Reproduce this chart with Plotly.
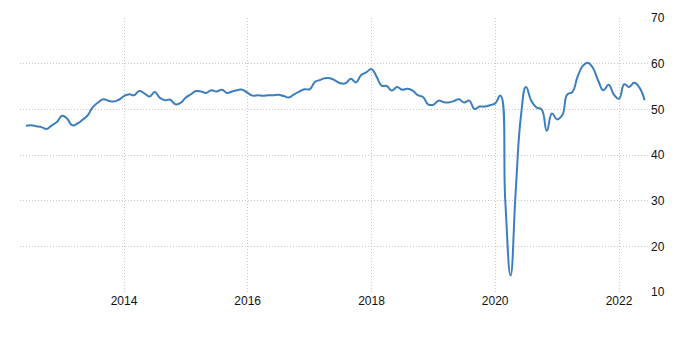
import plotly.graph_objects as go
import pandas as pd

start = "2012-06-01"
values = [
    # 2012 Jun-Dec
    46.4, 46.5, 46.3, 46.1, 45.7, 46.5, 47.2,
    # 2013
    48.6, 47.9, 46.5, 46.9, 47.7, 48.7, 50.5, 51.5, 52.2, 51.9, 51.7, 52.1,
    # 2014
    52.9, 53.3, 53.1, 54.0, 53.5, 52.8, 53.8, 52.5, 52.0, 52.1, 51.1, 51.4,
    # 2015
    52.6, 53.3, 54.0, 53.9, 53.6, 54.2, 53.9, 54.3, 53.6, 53.9, 54.2, 54.3,
    # 2016
    53.6, 53.0, 53.1, 53.0, 53.1, 53.1, 53.2, 52.9, 52.6, 53.3, 53.9, 54.4,
    # 2017
    54.4, 56.0, 56.4, 56.8, 56.8, 56.3, 55.7, 55.7, 56.7, 55.9, 57.5, 58.1,
    # 2018
    58.8, 57.1, 55.2, 55.1, 54.1, 54.9, 54.3, 54.5, 54.1, 53.1, 52.7, 51.1,
    # 2019
    51.0, 51.9, 51.6, 51.5, 51.8, 52.2, 51.5, 51.9, 50.1, 50.6, 50.6, 50.9,
    # 2020
    51.3, 53.0, 29.7, 13.6, 31.9, 48.5, 54.9, 51.9, 50.4, 50.0, 45.3, 49.1,
    # 2021
    47.8, 48.8, 53.2, 53.8, 57.1, 59.5, 60.2, 59.0, 56.2, 54.2, 55.4, 53.3,
    # 2022 Jan-Jun
    52.3, 55.5, 54.9, 55.8, 54.8, 52.0,
]
dates = pd.date_range(start=start, periods=len(values), freq="MS")

y_ticks = [10, 20, 30, 40, 50, 60, 70]
x_ticks = ["2014-01-01", "2016-01-01", "2018-01-01", "2020-01-01", "2022-01-01"]
x_tick_labels = ["2014", "2016", "2018", "2020", "2022"]

fig = go.Figure()
fig.add_trace(go.Scatter(
    x=dates, y=values, mode="lines",
    line=dict(color="#3d7ebf", width=2, shape="spline", smoothing=1.3),
    hoverinfo="skip", showlegend=False,
))

grid = dict(showgrid=True, gridcolor="#c8c8c8", gridwidth=1, griddash="1px,2px",
            zeroline=False, showline=False, ticks="")
fig.update_layout(
    width=700, height=364,
    margin=dict(l=20, r=50, t=18, b=72),
    paper_bgcolor="white", plot_bgcolor="white",
    font=dict(family="Liberation Sans, Arial, sans-serif", size=12, color="#111111"),
    xaxis=dict(range=["2012-04-27", "2022-07-03"], tickvals=x_ticks,
               ticktext=x_tick_labels, **grid),
    yaxis=dict(range=[10, 70], tickvals=y_ticks, side="right", **grid),
)
fig.write_html("out.html")
